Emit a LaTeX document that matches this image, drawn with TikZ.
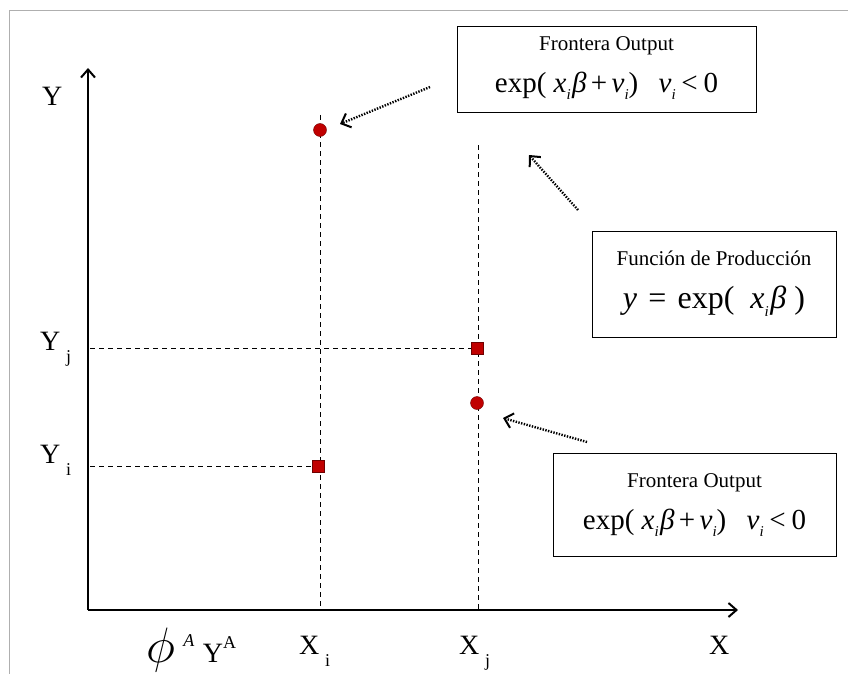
\documentclass[tikz,border=0pt]{standalone}
\usepackage{graphicx}
\usepackage{fontspec}
\setmainfont{Liberation Serif}
\usetikzlibrary{arrows.meta}

\definecolor{ptred}{RGB}{192,0,0}
\definecolor{ptedge}{RGB}{110,0,0}
\definecolor{framegray}{RGB}{175,175,175}

\newcommand{\lowsub}[1]{\hspace{0.2em}\raisebox{-0.45em}{\fontsize{18}{18}\selectfont #1}}
\newcommand{\vsub}{\textit{v}\raisebox{-0.25em}{\fontsize{15}{15}\selectfont\textit{i}}}
\newcommand{\xbeta}{\textit{x}\raisebox{-0.25em}{\fontsize{15}{15}\selectfont\textit{i}}\kern0.05em\textit{β}}

\begin{document}
\begin{tikzpicture}[x=1pt, y=-1pt,
                    axis/.style={line width=2.2pt, -{Straight Barb[length=8pt,width=14pt,line width=2pt]}},
                    guide/.style={dash pattern=on 5pt off 4pt, line width=0.9pt},
                    pointer/.style={line width=2.4pt, dash pattern=on 1.4pt off 1.4pt,
                                    -{Straight Barb[length=8pt,width=15pt,line width=2pt]}},
                    circ/.style={circle, fill=ptred, draw=ptedge, minimum size=13pt, inner sep=0pt},
                    sq/.style={rectangle, fill=ptred, draw=ptedge, minimum size=12pt, inner sep=0pt},
                    lbl/.style={font=\fontsize{28}{30}\selectfont, anchor=base west, inner sep=0pt},
                    infobox/.style={draw, line width=1pt, inner sep=0pt},
                    title/.style={font=\fontsize{21}{23}\selectfont, inner sep=0pt},
                    formula/.style={font=\fontsize{29}{31}\selectfont, inner sep=0pt}]
  \useasboundingbox (0,0) rectangle (848,674);
  \draw[framegray, line width=1pt] (9,674) -- (9,11) -- (848,11);

  \coordinate (origin) at (88,610);
  \coordinate (ytop) at (88,68);
  \coordinate (xend) at (738,610);
  \draw[axis] (origin) -- (ytop);
  \draw[axis] (origin) -- (xend);

  \coordinate (xi) at (320,610);
  \coordinate (xj) at (478,610);
  \coordinate (xitop) at (320,115);
  \coordinate (xjtop) at (478,145);
  \coordinate (yi) at (90,466);
  \coordinate (yj) at (90,348);

  \draw[guide] (xitop) -- (xi);
  \draw[guide] (xjtop) -- (xj);
  \draw[guide] (yj) -- (477,348);
  \draw[guide] (yi) -- (318,466);

  \node[circ] (frontA) at (320,130) {};
  \node[sq] (obsA) at (318,466) {};
  \node[sq] (obsB) at (477,348) {};
  \node[circ] (frontB) at (477,403) {};

  \node[lbl] (ylab) at (42,106) {Y};
  \node[lbl] (yjlab) at (40,350) {Y\lowsub{j}};
  \node[lbl] (yilab) at (40,463) {Y\lowsub{i}};
  \node[lbl] (xilab) at (299,654) {X\lowsub{i}};
  \node[lbl] (xjlab) at (459,654) {X\lowsub{j}};
  \node[lbl] (xlab) at (709,654) {X};
  \node[lbl] (phiy) at (146,662) {\scalebox{2}{$\phi$}\hspace{0.3em}\raisebox{0.55em}{\fontsize{18}{18}\selectfont\textit{A}}\hspace{0.3em}Y\raisebox{0.5em}{\fontsize{18}{18}\selectfont A}};

  \node[infobox, minimum width=299pt, minimum height=86pt] (box1) at (606.5,70) {};
  \node[title] (box1t) at (606.5,46) {Frontera Output};
  \node[formula] (box1f) at (606.5,86) {exp(\hspace{0.25em}\xbeta\hspace{0.15em}+\hspace{0.15em}\vsub)\hspace{0.7em}\vsub\hspace{0.2em}{<}\hspace{0.2em}0};

  \node[infobox, minimum width=244pt, minimum height=106pt] (box2) at (714,284) {};
  \node[title] (box2t) at (714,258) {Función de Producción};
  \node[formula, font=\fontsize{32}{34}\selectfont] (box2f) at (714,301) {\textit{y}\hspace{0.35em}=\hspace{0.35em}exp(\hspace{0.5em}\xbeta\hspace{0.25em})};

  \node[infobox, minimum width=283pt, minimum height=103pt] (box3) at (694.5,504.5) {};
  \node[title] (box3t) at (694.5,483) {Frontera Output};
  \node[formula] (box3f) at (694.5,523) {exp(\hspace{0.25em}\xbeta\hspace{0.15em}+\hspace{0.15em}\vsub)\hspace{0.7em}\vsub\hspace{0.2em}{<}\hspace{0.2em}0};

  \coordinate (tailA) at (430,87);
  \coordinate (tailB) at (578,210);
  \coordinate (tailC) at (587,442);
  \coordinate (tipA) at (340,124);
  \coordinate (tipB) at (529,155);
  \coordinate (tipC) at (503,418);
  \draw[pointer] (tailA) -- (tipA);
  \draw[pointer] (tailB) -- (tipB);
  \draw[pointer] (tailC) -- (tipC);
\end{tikzpicture}
\end{document}
